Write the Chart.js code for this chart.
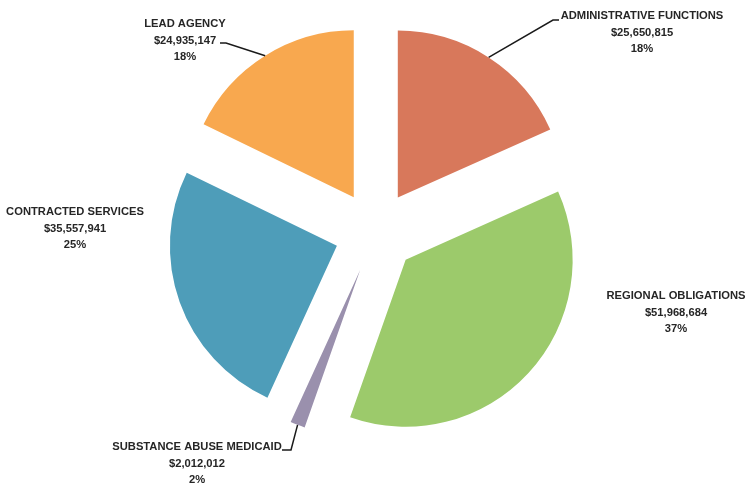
<!DOCTYPE html>
<html>
<head>
<meta charset="utf-8">
<title>Budget allocation</title>
<script src="https://cdn.jsdelivr.net/npm/chart.js@4.4.0/dist/chart.umd.min.js"></script>
<style>
  html, body { margin: 0; padding: 0; background: #fff; }
  #wrap { width: 748px; height: 486px; position: relative; }
</style>
</head>
<body>
<div id="wrap"><canvas id="chart1"></canvas></div>
<script>
// data
const categories = ["ADMINISTRATIVE FUNCTIONS", "REGIONAL OBLIGATIONS", "SUBSTANCE ABUSE MEDICAID", "CONTRACTED SERVICES", "LEAD AGENCY"];
const amounts = [25650815, 51968684, 2012012, 35557941, 24935147];
const percentLabels = ["18%", "37%", "2%", "25%", "18%"];
const sliceColors = ["#D8785B", "#9CCA6B", "#9A90AD", "#4E9DB9", "#F8A84F"];

// where each label block sits (center x, first line y) and its leader elbow/end
const labelSpots = [
  { x: 642, y: 16, leader: [[553, 20], [559, 20]] },
  { x: 676, y: 296, leader: null },
  { x: 197, y: 447, leader: [[291, 450], [282, 450]] },
  { x: 75, y: 212, leader: null },
  { x: 185, y: 24, leader: [[226, 43], [220, 43]] },
];

const EXPLODE = 41;
const LABEL_FONT = "bold 11.2px 'Liberation Sans', Arial, sans-serif";

function money(v) {
  return "$" + v.toLocaleString("en-US");
}

// draws every slice pulled out along its own middle angle
const explodePlugin = {
  id: "explode",
  beforeDatasetDraw(chart, args) {
    const ctx = chart.ctx;
    args.meta.data.forEach(function (arc) {
      const mid = (arc.startAngle + arc.endAngle) / 2;
      ctx.save();
      ctx.translate(Math.cos(mid) * EXPLODE, Math.sin(mid) * EXPLODE);
      arc.draw(ctx, chart.chartArea);
      ctx.restore();
    });
    return false;
  },
};

const labelPlugin = {
  id: "sliceLabels",
  afterDatasetsDraw(chart) {
    const ctx = chart.ctx;
    const arcs = chart.getDatasetMeta(0).data;
    ctx.save();
    ctx.font = LABEL_FONT;
    ctx.fillStyle = "#262626";
    ctx.textAlign = "center";
    ctx.textBaseline = "middle";
    arcs.forEach(function (arc, i) {
      const spot = labelSpots[i];
      const lines = [categories[i], money(amounts[i]), percentLabels[i]];
      lines.forEach(function (t, k) {
        ctx.fillText(t, spot.x, spot.y + k * 16.5);
      });
      if (spot.leader) {
        const mid = (arc.startAngle + arc.endAngle) / 2;
        const r = arc.outerRadius + EXPLODE;
        ctx.beginPath();
        ctx.moveTo(arc.x + Math.cos(mid) * r, arc.y + Math.sin(mid) * r);
        spot.leader.forEach(function (p) { ctx.lineTo(p[0], p[1]); });
        ctx.strokeStyle = "#1a1a1a";
        ctx.lineWidth = 1.5;
        ctx.stroke();
      }
    });
    ctx.restore();
  },
};

const ctx = document.getElementById("chart1");
new Chart(ctx, {
  type: "pie",
  data: {
    labels: categories,
    datasets: [
      {
        data: amounts,
        backgroundColor: sliceColors,
        borderWidth: 0,
      },
    ],
  },
  options: {
    responsive: true,
    maintainAspectRatio: false,
    animation: false,
    radius: 167,
    layout: { padding: { left: 3, bottom: 22 } },
    plugins: {
      legend: { display: false },
      tooltip: { enabled: false },
    },
  },
  plugins: [explodePlugin, labelPlugin],
});
</script>
</body>
</html>
